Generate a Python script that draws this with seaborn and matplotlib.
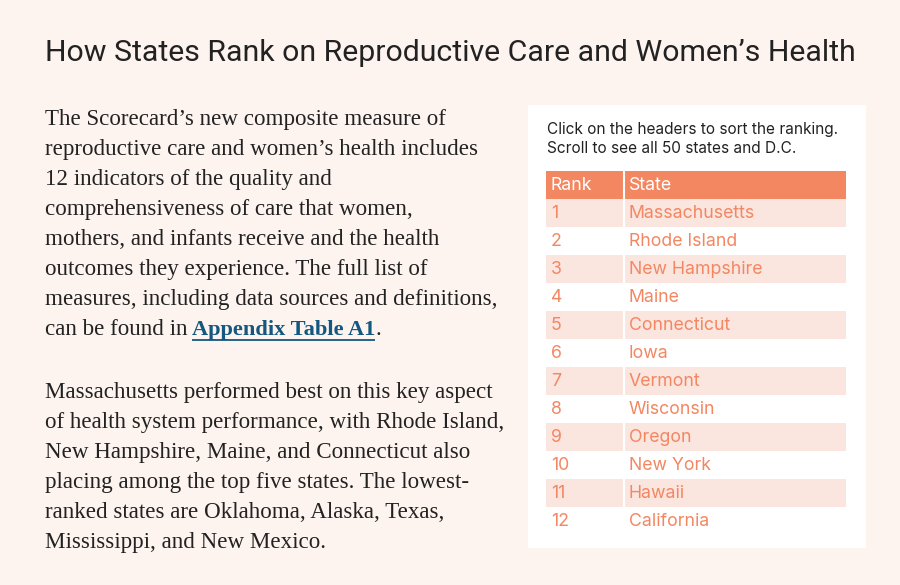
import matplotlib
matplotlib.use("Agg")
import matplotlib.pyplot as plt
import numpy as np
import seaborn as sns

title = "How States Rank on Reproductive Care and Women’s Health"
para1 = ["The Scorecard’s new composite measure of",
         "reproductive care and women’s health includes",
         "12 indicators of the quality and",
         "comprehensiveness of care that women,",
         "mothers, and infants receive and the health",
         "outcomes they experience. The full list of",
         "measures, including data sources and definitions,"]
link_prefix = "can be found in "
link_text = "Appendix Table A1"
para2 = ["Massachusetts performed best on this key aspect",
         "of health system performance, with Rhode Island,",
         "New Hampshire, Maine, and Connecticut also",
         "placing among the top five states. The lowest-",
         "ranked states are Oklahoma, Alaska, Texas,",
         "Mississippi, and New Mexico."]
note = ["Click on the headers to sort the ranking.", "Scroll to see all 50 states and D.C."]
headers = ["Rank", "State"]
ranks = [1, 2, 3, 4, 5, 6, 7, 8, 9, 10, 11, 12]
states = ["Massachusetts", "Rhode Island", "New Hampshire", "Maine", "Connecticut", "Iowa",
          "Vermont", "Wisconsin", "Oregon", "New York", "Hawaii", "California"]

BG = "#FDF3EF"; INK = "#222222"; LINK = "#14587F"
HEAD = "#F38762"; BAND = "#FBE5DF"; ROWTXT = "#F38762"

sns.set_theme(style="white")
fig = plt.figure(figsize=(9, 5.85), dpi=100, facecolor=BG)
bg = fig.add_axes([0, 0, 1, 1])
bg.set_xlim(0, 900); bg.set_ylim(585, 0); bg.axis("off")
bg.add_patch(plt.Rectangle((528, 105), 338, 443, fc="white", ec="none"))

bg.text(45, 61, title, family="Roboto", fontsize=21.8, color=INK, va="baseline", ha="left")
SERIF = dict(family="Liberation Serif", fontsize=16.6, color=INK, va="baseline", ha="left")
for i, s in enumerate(para1):
    bg.text(45, 125 + 30 * i, s, **SERIF)
bg.text(45, 335, link_prefix.rstrip() + " ", **SERIF)
fig.canvas.draw()
r = fig.canvas.get_renderer()
link = bg.text(192, 335, link_text, **{**SERIF, "color": LINK, "fontweight": "bold", "fontsize": 16.1})
e = link.get_window_extent(r)
bg.plot([192, e.x1], [339.5, 339.5], color=LINK, lw=1.3, solid_capstyle="butt")
bg.text(e.x1, 335, ".", **SERIF)
for i, s in enumerate(para2):
    bg.text(45, 398 + 30 * i, s, **SERIF)
for i, s in enumerate(note):
    bg.text(547, 134 + 19 * i, s, family="Inter", fontsize=11.1, color=INK, va="baseline", ha="left")

# table: shaded rows drawn by a heatmap
shade = np.array([[2, 2]] + [[1 - i % 2, 1 - i % 2] for i in range(len(ranks))], dtype=float)
ax = fig.add_axes([546 / 900, 1 - 535 / 585, 300 / 900, 364 / 585])
cmap = matplotlib.colors.ListedColormap(["white", BAND, HEAD])
sns.heatmap(shade, ax=ax, cmap=cmap, vmin=0, vmax=2, cbar=False, xticklabels=False, yticklabels=False)
ax.set_facecolor("white")
split = (623.5 - 546) / 150
ax.axvline(split, color="white", lw=1.5)
def xd(px):
    return (px - 546) / 150
up = 2 / 28
TXT = dict(family="Inter", fontsize=12.75, va="center_baseline")
ax.text(xd(551), 0.5 - up, headers[0], color="white", **TXT)
ax.text(xd(629), 0.5 - up, headers[1], color="white", **TXT)
for i, (rk, st) in enumerate(zip(ranks, states)):
    ax.text(xd(551), i + 1.5 - up, str(rk), color=ROWTXT, **TXT)
    ax.text(xd(629), i + 1.5 - up, st, color=ROWTXT, **TXT)
fig.savefig("out.png", dpi=100, facecolor=BG)
